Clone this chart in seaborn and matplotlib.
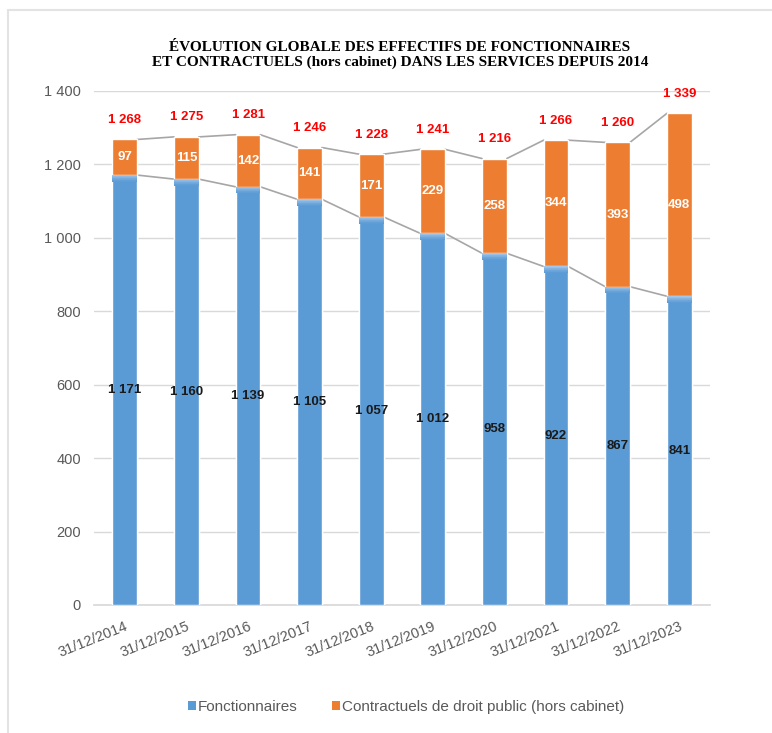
import matplotlib
matplotlib.use('Agg')
import matplotlib.pyplot as plt
import matplotlib.colors as mcolors
import numpy as np
import seaborn as sns
import pandas as pd
from matplotlib.patches import Patch, Rectangle

# ---- data ----
dates = ['31/12/2014', '31/12/2015', '31/12/2016', '31/12/2017', '31/12/2018',
         '31/12/2019', '31/12/2020', '31/12/2021', '31/12/2022', '31/12/2023']
fonctionnaires = [1171, 1160, 1139, 1105, 1057, 1012, 958, 922, 867, 841]
contractuels = [97, 115, 142, 141, 171, 229, 258, 344, 393, 498]
totaux = [1268, 1275, 1281, 1246, 1228, 1241, 1216, 1266, 1260, 1339]
y_ticks = [0, 200, 400, 600, 800, 1000, 1200, 1400]
y_tick_labels = ['0', '200', '400', '600', '800', '1 000', '1 200', '1 400']
series_names = ['Fonctionnaires', 'Contractuels de droit public (hors cabinet)']
title_lines = ['ÉVOLUTION GLOBALE DES EFFECTIFS DE FONCTIONNAIRES',
               'ET CONTRACTUELS (hors cabinet) DANS LES SERVICES DEPUIS 2014']

BLUE = '#5B9BD5'
BLUE_LIGHT = '#A4C6EA'
ORANGE = '#ED7D31'
GRAY_TXT = '#595959'
LINE_GRAY = '#A6A6A6'


def fmt(v):
    return f"{v:,}".replace(',', ' ')


sns.set_theme(style='white')
plt.rcParams['font.family'] = ['Liberation Sans', 'DejaVu Sans']

fig = plt.figure(figsize=(7.72, 7.33), dpi=100)
fig.patch.set_facecolor('white')
ax = fig.add_axes([94 / 772, 1 - 605 / 733, (710 - 94) / 772, (605 - 91) / 733])

df = pd.DataFrame({'date': dates, 'fonct': fonctionnaires,
                   'contr': contractuels, 'total': totaux})

BW = 0.4
sns.barplot(data=df, x='date', y='total', color=ORANGE, width=BW,
            saturation=1, ax=ax, zorder=3)
sns.barplot(data=df, x='date', y='fonct', color=BLUE, width=BW,
            saturation=1, ax=ax, zorder=3)

n = len(dates)

# soft highlight at the top of the blue segments
c0 = np.array(mcolors.to_rgb(BLUE))
c1 = np.array(mcolors.to_rgb(BLUE_LIGHT))
steps = 10
band = 18.0
for i in range(n):
    f = fonctionnaires[i]
    for k in range(steps):
        frac = ((k + 1) / steps) ** 1.5
        col = c0 + (c1 - c0) * frac
        ax.bar(i, band / steps, bottom=f - band + k * band / steps, width=BW,
               color=col, edgecolor='none', linewidth=0, zorder=3.5)

# series lines connecting the tops
for i in range(n - 1):
    ax.plot([i + BW / 2, i + 1 - BW / 2], [totaux[i], totaux[i + 1]],
            color=LINE_GRAY, lw=1.2, zorder=2)
    ax.plot([i + BW / 2, i + 1 - BW / 2], [fonctionnaires[i], fonctionnaires[i + 1]],
            color=LINE_GRAY, lw=1.2, zorder=2)

# value labels
for i in range(n):
    f, c, t = fonctionnaires[i], contractuels[i], totaux[i]
    ax.text(i, f / 2, fmt(f), ha='center', va='center', fontsize=9.5,
            fontweight='bold', color='#1a1a1a', zorder=5)
    ax.text(i, f + c / 2, fmt(c), ha='center', va='center', fontsize=9.5,
            fontweight='bold', color='white', zorder=5)
    ax.annotate(fmt(t), (i, t), xytext=(0, 14), textcoords='offset points',
                ha='center', va='center', fontsize=9.5, fontweight='bold',
                color='#FF0000', zorder=5)

ax.set_xlim(-0.5, n - 0.5)
ax.set_ylim(0, 1400)
ax.set_yticks(y_ticks)
ax.set_yticklabels(y_tick_labels)
ax.set_xlabel('')
ax.set_ylabel('')
ax.yaxis.grid(True, color='#D9D9D9', lw=1, zorder=0)
ax.set_axisbelow(True)
for s in ['top', 'right', 'left']:
    ax.spines[s].set_visible(False)
ax.spines['bottom'].set_color('#D9D9D9')
ax.tick_params(axis='y', length=0, pad=9.5, labelsize=10.5, labelcolor=GRAY_TXT)
ax.tick_params(axis='x', length=0, pad=10, labelsize=10.5, labelcolor=GRAY_TXT)
for lab in ax.get_xticklabels():
    lab.set_rotation(22)
    lab.set_ha('right')
    lab.set_rotation_mode('anchor')

# title
fig.text(0.518, 1 - 55 / 733, '\n'.join(title_lines), ha='center', va='center',
         fontsize=11, fontweight='bold', family=['Liberation Serif', 'DejaVu Serif'],
         color='black', linespacing=1.2)

# legend
handles = [Patch(facecolor=BLUE, edgecolor='none'),
           Patch(facecolor=ORANGE, edgecolor='none')]
fig.legend(handles, series_names, loc='center', bbox_to_anchor=(406 / 772, 1 - 707 / 733),
           ncol=2, frameon=False, fontsize=11, labelcolor=GRAY_TXT,
           handlelength=0.55, handleheight=0.55, handletextpad=0.15, columnspacing=2.2)

# outer border
fig.patches.append(Rectangle((7.5 / 772, -0.1), 1.2, (733 - 10) / 733 + 0.1,
                             transform=fig.transFigure, fill=False,
                             edgecolor='#E3E3E3', lw=1.5))

fig.savefig('out.png', dpi=100)
